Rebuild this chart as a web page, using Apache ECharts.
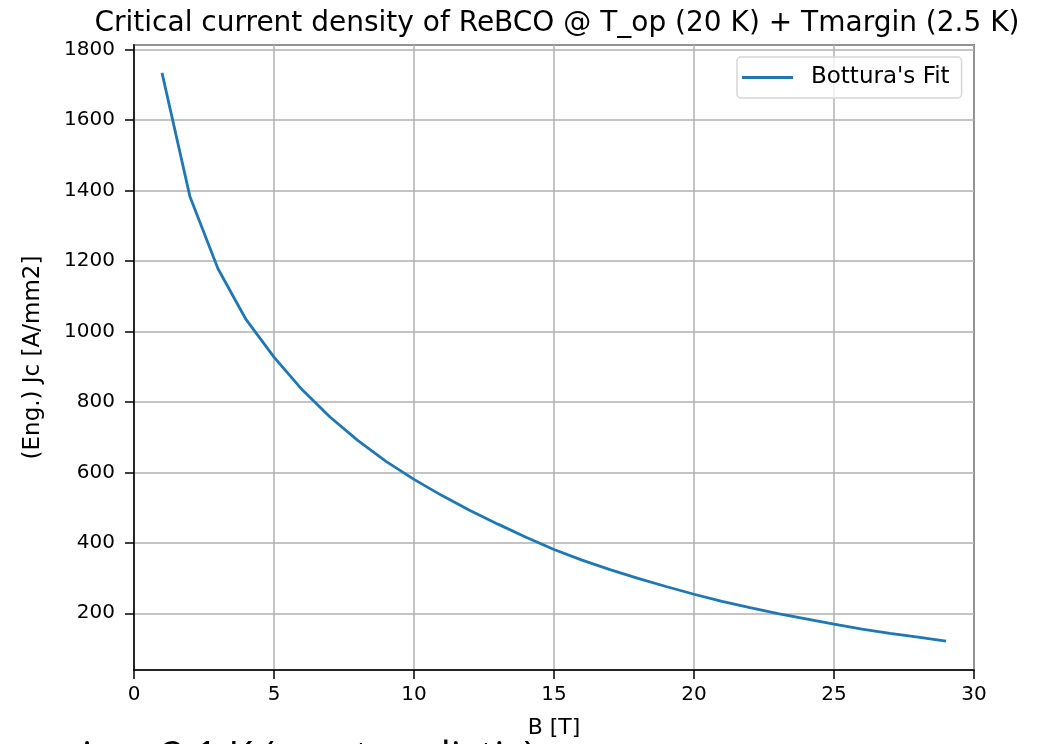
<!DOCTYPE html>
<html>
<head>
<meta charset="utf-8">
<script src="https://cdn.jsdelivr.net/npm/echarts@6/dist/echarts.min.js"></script>
<style>
  html, body { margin: 0; padding: 0; background: #fff; }
  #chart { width: 1046px; height: 744px; }
</style>
</head>
<body>
<div id="chart"></div>
<script>
const titleText = "Critical current density of ReBCO @ T_op (20 K) + Tmargin (2.5 K)";
const xName = "B [T]";
const yName = "(Eng.) Jc [A/mm2]";
const seriesName = "Bottura's Fit";
const fieldB = [1, 2, 3, 4, 5, 6, 7, 8, 9, 10, 11, 12, 13, 14, 15, 16, 17, 18, 19, 20, 21, 22, 23, 24, 25, 26, 27, 28, 29];
const jcValues = [1734, 1382, 1178, 1034, 927, 835, 757, 690, 631, 580, 534, 492, 453, 416, 381, 351, 324, 299, 276, 254, 234, 216, 199, 184, 169, 155, 143, 132, 121];
const footText = "ion: 2.1 K (most realistic)";

const font = "DejaVu Sans";
const chart = echarts.init(document.getElementById('chart'), null, { renderer: 'canvas' });

chart.setOption({
  animation: false,
  backgroundColor: '#ffffff',
  title: {
    text: titleText,
    left: 552,
    top: 5,
    textAlign: 'center',
    textStyle: { fontFamily: font, fontSize: 28, fontWeight: 'normal', color: '#000' }
  },
  legend: {
    data: [{ name: seriesName, icon: 'rect' }],
    left: 737,
    top: 57,
    orient: 'vertical',
    padding: [9, 12, 9, 5],
    itemWidth: 51,
    itemHeight: 3,
    backgroundColor: 'rgba(255,255,255,0.8)',
    borderColor: '#d6d6d6',
    borderWidth: 1.5,
    borderRadius: 4,
    textStyle: { fontFamily: font, fontSize: 23, color: '#000', padding: [0, 0, 0, 13] }
  },
  grid: {
    left: 134, right: 72, top: 45, bottom: 72,
    show: true, borderColor: '#000', borderWidth: 1.5, backgroundColor: 'transparent'
  },
  xAxis: {
    type: 'value',
    min: 0, max: 30, interval: 5,
    name: xName,
    nameLocation: 'middle',
    nameGap: 47,
    nameTextStyle: { fontFamily: font, fontSize: 22, color: '#000' },
    axisLine: { show: true, lineStyle: { color: '#000', width: 1.5 } },
    axisTick: { show: true, length: 9, lineStyle: { color: '#000', width: 1.5 } },
    axisLabel: { fontFamily: font, fontSize: 20, color: '#000', margin: 15 },
    splitLine: { show: true, lineStyle: { color: '#b0b0b0', width: 1.5 } }
  },
  yAxis: {
    type: 'value',
    min: 39, max: 1813, splitNumber: 9,
    name: yName,
    nameLocation: 'middle',
    nameGap: 89,
    nameRotate: 90,
    nameTextStyle: { fontFamily: font, fontSize: 23, color: '#000' },
    axisLine: { show: true, lineStyle: { color: '#000', width: 1.5 } },
    axisTick: { show: true, length: 9, lineStyle: { color: '#000', width: 1.5 } },
    axisLabel: {
      fontFamily: font, fontSize: 20, color: '#000', margin: 19,
      showMinLabel: false, showMaxLabel: false,
      formatter: v => (v % 200 === 0 ? String(v) : '')
    },
    splitLine: { show: true, lineStyle: { color: '#b0b0b0', width: 1.5 } }
  },
  series: [{
    name: seriesName,
    type: 'line',
    data: fieldB.map((b, i) => [b, jcValues[i]]),
    symbol: 'none',
    smooth: false,
    lineStyle: { color: '#1f77b4', width: 2.8 },
    itemStyle: { color: '#1f77b4' }
  }],
  graphic: [{
    type: 'text',
    left: 82,
    top: 739,
    style: { text: footText, fontFamily: 'Open Sans', fontSize: 40, fill: '#000' }
  }]
});
</script>
</body>
</html>
